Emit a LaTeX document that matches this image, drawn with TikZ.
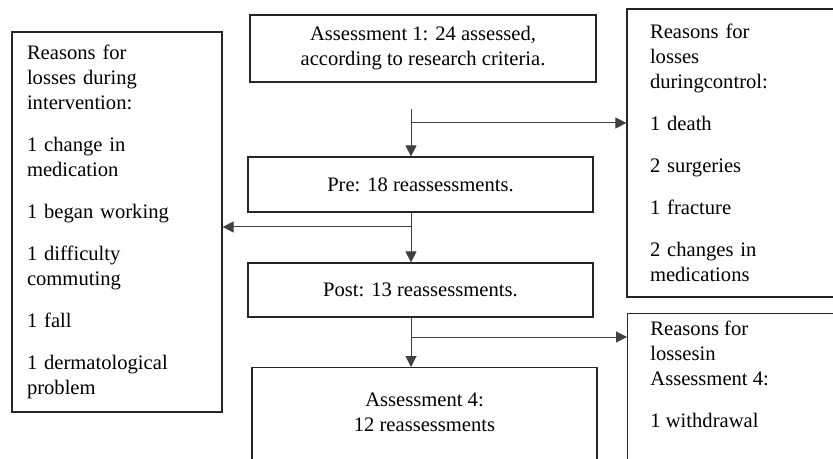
\documentclass[tikz,border=0pt]{standalone}
\usepackage{fontspec}
\setmainfont{Liberation Serif}
\usetikzlibrary{arrows.meta}

\begin{document}
\begin{tikzpicture}[x=0.5pt,y=-0.5pt]
  \tikzset{>={Triangle[length=5.5pt,width=5.5pt]}}
  \tikzset{box/.style={draw=black!85, line width=0.6pt, inner sep=0pt},
    reason/.style={box, align=left, inner xsep=7.5pt, font=\fontsize{10.3}{12.5}\selectfont},
    stage/.style={box, align=center, font=\fontsize{10.3}{12.5}\selectfont},
    txt/.style={inner sep=0pt, font=\fontsize{10.3}{12.5}\selectfont},
    link/.style={draw=black!75, line width=0.5pt}}
  \clip (0,0) rectangle (833,459);

  % main column
  \node [stage, minimum width=173pt, minimum height=33.5pt] (Assess1) at (423,48.5) {Assessment 1: 24 assessed,\\according to research criteria.};
  \node [stage, minimum width=172.5pt, minimum height=27.5pt] (Pre) at (420.5,184.5) {Pre: 18 reassessments.};
  \node [stage, minimum width=172.5pt, minimum height=27pt] (Post) at (420.5,290) {Post: 13 reassessments.};
  \node [box, anchor=north, minimum width=172.5pt, minimum height=80pt] (Assess4) at (424.5,367) {};
  \node [txt, align=center] (Assess4Text) at (424.5,412.5) {Assessment 4:\\12 reassessments};

  % losses
  \node [reason, text width=90pt, minimum height=190pt] (LossInter) at (117,222) {Reasons for\\losses during\\intervention:\\[8.5pt]
    1 change in\\medication\\[8.5pt]
    1 began working\\[8.5pt]
    1 difficulty\\commuting\\[8.5pt]
    1 fall\\[8.5pt]
    1 dermatological\\problem};
  \node [reason, inner xsep=11.5pt, text width=88.5pt, minimum height=144pt] (LossCtrl) at (738.5,153) {Reasons for\\losses\\duringcontrol:\\[8.5pt]
    1 death\\[8.5pt]
    2 surgeries\\[8.5pt]
    1 fracture\\[8.5pt]
    2 changes in\\medications};
  \node [box, anchor=north west, minimum width=111.5pt, minimum height=100pt] (LossA4) at (627,313) {};
  \node [txt, align=left, anchor=north west] (LossA4Text) at (650,321) {Reasons for\\lossesin\\Assessment 4:\\[8.5pt]
    1 withdrawal};

  % connectors
  \coordinate (Split1) at (411,109);
  \coordinate (Branch1) at (411,123);
  \coordinate (Branch2) at (411,227);
  \coordinate (Branch3) at (411,337);
  \draw [link, ->] (Split1) -- (Split1 |- Pre.north);
  \draw [link, ->] (Branch1) -- (Branch1 -| LossCtrl.west);
  \draw [link, ->] (Pre.south -| Split1) -- (Post.north -| Split1);
  \draw [link, ->] (Branch2) -- (Branch2 -| LossInter.east);
  \draw [link, ->] (Post.south -| Split1) -- (Assess4.north -| Split1);
  \draw [link, ->] (Branch3) -- (Branch3 -| LossA4.west);
\end{tikzpicture}
\end{document}
